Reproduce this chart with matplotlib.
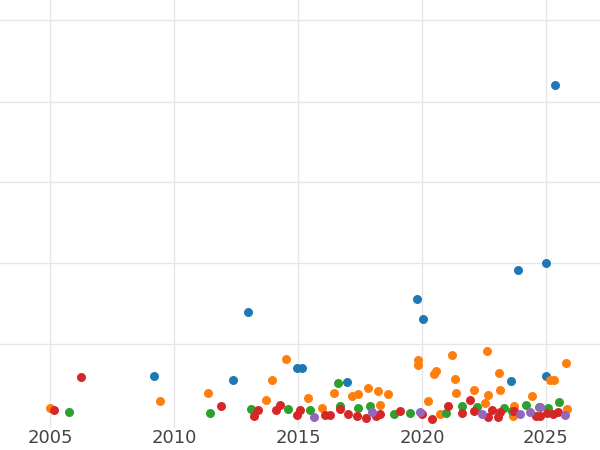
import matplotlib
matplotlib.use("Agg")
import matplotlib.pyplot as plt

blue_x = [2025.36, 2025.0, 2023.87, 2019.8, 2020.04, 2012.98, 2009.19, 2012.38, 2014.96, 2015.16, 2016.98, 2023.59, 2025.0]
blue_y = [343, 164, 157, 128, 108, 115, 50, 46, 58, 58, 44, 45, 50]
orange_x = [2005.0, 2009.44, 2011.37, 2013.95, 2014.52, 2013.71, 2015.4, 2015.97, 2016.45, 2017.18, 2017.42, 2017.82,
            2018.23, 2018.31, 2018.63, 2019.84, 2019.84, 2020.24, 2020.56, 2020.48, 2021.21, 2021.33, 2021.37, 2022.1,
            2022.62, 2022.66, 2023.1, 2023.15, 2022.54, 2024.44, 2025.16, 2025.32, 2025.81, 2023.71, 2025.85, 2023.67, 2020.73]
orange_y = [18, 25, 33, 46, 67, 26, 28, 18, 33, 30, 32, 38, 35, 21, 32, 66, 61, 25, 55, 52, 71, 47, 33, 36, 75, 31,
            53, 36, 23, 30, 46, 46, 63, 20, 17, 10, 12]
green_x = [2005.77, 2011.45, 2013.1, 2014.6, 2015.48, 2016.61, 2016.69, 2017.42, 2017.9, 2018.87, 2019.52, 2020.97,
           2021.61, 2022.22, 2023.31, 2023.63, 2024.19, 2025.08, 2025.52, 2024.72]
green_y = [14, 13, 17, 17, 16, 43, 20, 18, 20, 12, 13, 13, 20, 19, 18, 15, 21, 18, 24, 19]
red_x = [2005.16, 2006.25, 2011.9, 2013.23, 2013.39, 2014.11, 2014.27, 2014.96, 2015.08, 2016.09, 2016.29, 2016.69,
         2017.02, 2017.38, 2017.74, 2018.15, 2018.31, 2019.11, 2020.0, 2020.4, 2021.05, 2021.61, 2021.94, 2022.1,
         2022.66, 2022.82, 2023.06, 2023.15, 2023.71, 2024.6, 2024.76, 2025.28, 2025.48, 2025.04]
red_y = [16, 49, 20, 10, 16, 16, 21, 11, 16, 11, 11, 17, 12, 10, 8, 10, 12, 15, 12, 7, 20, 13, 26, 15, 9, 16, 9,
         14, 15, 10, 10, 12, 14, 13]
purple_x = [2015.65, 2017.98, 2019.92, 2022.42, 2023.95, 2024.35, 2024.76, 2025.77]
purple_y = [9, 14, 14, 12, 12, 14, 19, 11]

x_ticks = [2005, 2010, 2015, 2020, 2025]
y_grid = [82, 164, 245, 326, 408]

fig = plt.figure(figsize=(6, 4.5), dpi=100)
ax = fig.add_axes([0, 22/450, 1, 428/450])
ax.set_axisbelow(True)
for xs, ys, c in [(blue_x, blue_y, '#1f77b4'), (orange_x, orange_y, '#ff7f0e'), (green_x, green_y, '#2ca02c'),
                  (red_x, red_y, '#d62728'), (purple_x, purple_y, '#9467bd')]:
    ax.scatter(xs, ys, s=42, color=c, linewidths=0, zorder=3)
ax.set_xlim(2002.98, 2027.18)
ax.set_ylim(-2, 428)
ax.set_xticks(x_ticks)
ax.set_yticks(y_grid)
ax.set_yticklabels([])
ax.grid(True, color='#e6e6e6', linewidth=1)
ax.tick_params(length=0, labelsize=13, colors='#444444', pad=1)
for s in ax.spines.values():
    s.set_visible(False)
fig.savefig("out.png", dpi=100)
